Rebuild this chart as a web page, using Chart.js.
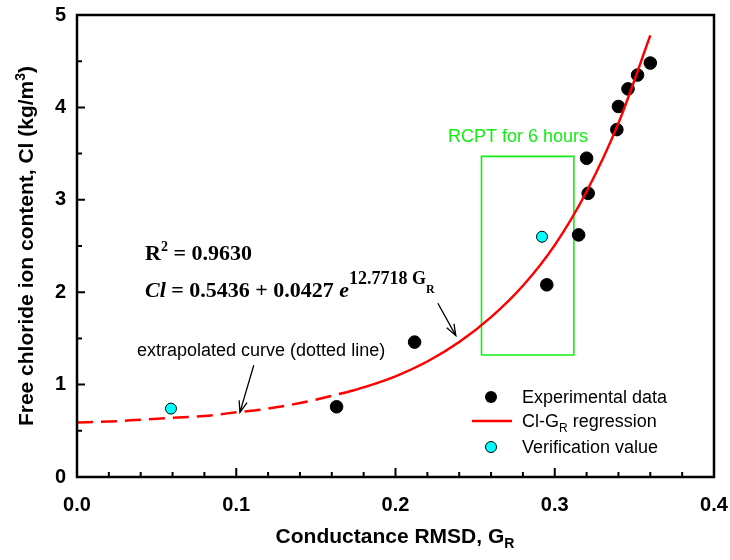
<!DOCTYPE html>
<html><head><meta charset="utf-8">
<script src="https://cdn.jsdelivr.net/npm/chart.js@4/dist/chart.umd.min.js"></script>
<style>html,body{margin:0;padding:0;background:#fff}#wrap{width:730px;height:560px}</style>
</head><body><div id="wrap"><canvas id="c" width="730" height="560"></canvas></div>
<script>
// ---- data ----
const xTicks = [0, 0.1, 0.2, 0.3, 0.4];
const yTicks = [0, 1, 2, 3, 4, 5];
const xMinor = [0.02, 0.04, 0.06, 0.08, 0.12, 0.14, 0.16, 0.18, 0.22, 0.24, 0.26, 0.28, 0.32, 0.34, 0.36, 0.38];
const yMinor = [0.5, 1.5, 2.5, 3.5, 4.5];

const expX = [0.163, 0.212, 0.295, 0.315, 0.321, 0.320, 0.339, 0.340, 0.346, 0.352, 0.360];
const expY = [0.76, 1.46, 2.08, 2.62, 3.07, 3.45, 3.76, 4.01, 4.20, 4.35, 4.48];

const verX = [0.059, 0.292];
const verY = [0.74, 2.60];

// regression curve (solid)
const regX = [0.17, 0.18, 0.20, 0.22, 0.24, 0.26, 0.28, 0.30, 0.32, 0.34, 0.36];
const regY = [0.92, 0.97, 1.09, 1.25, 1.46, 1.73, 2.07, 2.51, 3.09, 3.83, 4.78];

// extrapolated curve (dashed)
const extX = [0.00, 0.02, 0.04, 0.06, 0.08, 0.10, 0.12, 0.14, 0.17];
const extY = [0.59, 0.60, 0.62, 0.64, 0.66, 0.70, 0.74, 0.80, 0.92];

// "RCPT for 6 hours" box
const rectX = [0.254, 0.312, 0.312, 0.254, 0.254];
const rectY = [1.32, 1.32, 3.47, 3.47, 1.32];

const zip = (xs, ys) => xs.map((x, i) => ({x: x, y: ys[i]}));

const SANS = '"Liberation Sans", Arial, sans-serif';
const SERIF = '"Liberation Serif", "Times New Roman", serif';
const GREEN = '#11ee11';

function drawRich(ctx, x, y, segs, align) {
  let w = 0;
  segs.forEach(s => { ctx.font = s.font; s.w = ctx.measureText(s.t).width; w += s.w + (s.gap || 0); });
  let cx = align === 'center' ? x - w / 2 : x;
  ctx.textAlign = 'left';
  ctx.textBaseline = 'alphabetic';
  segs.forEach(s => {
    ctx.font = s.font;
    ctx.fillText(s.t, cx, y + (s.dy || 0));
    cx += s.w + (s.gap || 0);
  });
}

function arrow(ctx, x1, y1, x2, y2) {
  ctx.beginPath();
  ctx.moveTo(x1, y1); ctx.lineTo(x2, y2);
  const a = Math.atan2(y2 - y1, x2 - x1);
  const L = 12, sp = 0.35;
  ctx.moveTo(x2 - L * Math.cos(a - sp), y2 - L * Math.sin(a - sp));
  ctx.lineTo(x2, y2);
  ctx.lineTo(x2 - L * Math.cos(a + sp), y2 - L * Math.sin(a + sp));
  ctx.stroke();
}

const deco = {
  id: 'deco',
  afterDraw(chart) {
    const ctx = chart.ctx, ca = chart.chartArea;
    const xs = chart.scales.x, ys = chart.scales.y;
    ctx.save();
    // frame
    ctx.strokeStyle = '#000';
    ctx.lineWidth = 2.5;
    ctx.strokeRect(ca.left, ca.top, ca.right - ca.left, ca.bottom - ca.top);
    // inward ticks
    ctx.lineWidth = 2;
    ctx.beginPath();
    yTicks.forEach(v => { const p = ys.getPixelForValue(v); ctx.moveTo(ca.left, p); ctx.lineTo(ca.left + 8, p); });
    yMinor.forEach(v => { const p = ys.getPixelForValue(v); ctx.moveTo(ca.left, p); ctx.lineTo(ca.left + 5, p); });
    xTicks.forEach(v => { const p = xs.getPixelForValue(v); ctx.moveTo(p, ca.bottom); ctx.lineTo(p, ca.bottom - 9); });
    xMinor.forEach(v => { const p = xs.getPixelForValue(v); ctx.moveTo(p, ca.bottom); ctx.lineTo(p, ca.bottom - 5); });
    ctx.stroke();

    ctx.fillStyle = '#000';
    // x axis title
    drawRich(ctx, 395, 543, [
      {t: 'Conductance RMSD, G', font: 'bold 21px ' + SANS},
      {t: 'R', font: 'bold 14px ' + SANS, dy: 5}
    ], 'center');
    // y axis title (rotated)
    ctx.save();
    ctx.translate(33, 246);
    ctx.rotate(-Math.PI / 2);
    drawRich(ctx, 0, 0, [
      {t: 'Free chloride ion content, Cl (kg/m', font: 'bold 21px ' + SANS},
      {t: '3', font: 'bold 14px ' + SANS, dy: -8},
      {t: ')', font: 'bold 21px ' + SANS}
    ], 'center');
    ctx.restore();

    // formula
    drawRich(ctx, 145, 260, [
      {t: 'R', font: 'bold 22px ' + SERIF},
      {t: '2', font: 'bold 14px ' + SERIF, dy: -9},
      {t: ' = 0.9630', font: 'bold 22px ' + SERIF}
    ], 'left');
    drawRich(ctx, 145, 297, [
      {t: 'Cl', font: 'italic bold 22px ' + SERIF},
      {t: ' = 0.5436 + 0.0427 ', font: 'bold 22px ' + SERIF},
      {t: 'e', font: 'italic bold 22px ' + SERIF},
      {t: '12.7718 G', font: 'bold 18px ' + SERIF, dy: -13},
      {t: 'R', font: 'bold 12px ' + SERIF, dy: -4}
    ], 'left');

    // extrapolated note
    ctx.font = '18px ' + SANS;
    ctx.textAlign = 'left';
    ctx.textBaseline = 'alphabetic';
    ctx.fillText('extrapolated curve (dotted line)', 137, 356);

    // RCPT label
    ctx.fillStyle = GREEN;
    ctx.fillText('RCPT for 6 hours', 448, 142);

    // arrows
    ctx.strokeStyle = '#000';
    ctx.lineWidth = 1.3;
    arrow(ctx, xs.getPixelForValue(0.111), ys.getPixelForValue(1.21), xs.getPixelForValue(0.1023), ys.getPixelForValue(0.70));
    arrow(ctx, xs.getPixelForValue(0.2266), ys.getPixelForValue(1.88), xs.getPixelForValue(0.2379), ys.getPixelForValue(1.53));

    // legend
    ctx.fillStyle = '#000';
    ctx.beginPath(); ctx.arc(491, 397, 6, 0, Math.PI * 2); ctx.fill();
    ctx.strokeStyle = '#ff0000'; ctx.lineWidth = 2.5;
    ctx.beginPath(); ctx.moveTo(472, 421); ctx.lineTo(512, 421); ctx.stroke();
    ctx.fillStyle = '#00ffff'; ctx.strokeStyle = '#000'; ctx.lineWidth = 1;
    ctx.beginPath(); ctx.arc(491, 447, 5.5, 0, Math.PI * 2); ctx.fill(); ctx.stroke();
    ctx.fillStyle = '#000';
    ctx.font = '18px ' + SANS;
    ctx.fillText('Experimental data', 522, 403);
    drawRich(ctx, 522, 427, [
      {t: 'Cl-G', font: '18px ' + SANS},
      {t: 'R', font: '12px ' + SANS, dy: 5},
      {t: ' regression', font: '18px ' + SANS}
    ], 'left');
    ctx.font = '18px ' + SANS;
    ctx.fillText('Verification value', 522, 453);
    ctx.restore();
  }
};

new Chart(document.getElementById('c'), {
  type: 'scatter',
  data: {
    datasets: [
      {label: 'Experimental data', data: zip(expX, expY), backgroundColor: '#000', borderColor: '#000',
       pointRadius: 6.3, pointHoverRadius: 6.3, order: 2},
      {label: 'Verification value', data: zip(verX, verY), backgroundColor: '#00ffff', borderColor: '#000',
       borderWidth: 1, pointRadius: 5.5, order: 2},
      {label: 'Cl-GR regression', data: zip(regX, regY), showLine: true, borderColor: '#ff0000',
       borderWidth: 2.5, pointRadius: 0, cubicInterpolationMode: 'monotone', order: 0},
      {label: 'extrapolated', data: zip(extX, extY), showLine: true, borderColor: '#ff0000',
       borderWidth: 2.5, borderDash: [16, 8], pointRadius: 0, cubicInterpolationMode: 'monotone', order: 0},
      {label: 'RCPT box', data: zip(rectX, rectY), showLine: true, borderColor: GREEN,
       borderWidth: 1.6, pointRadius: 0, tension: 0, order: 3}
    ]
  },
  options: {
    responsive: false,
    animation: false,
    devicePixelRatio: 1,
    layout: {padding: {top: 15, right: 16, left: 0, bottom: 0}},
    plugins: {legend: {display: false}, tooltip: {enabled: false}},
    scales: {
      x: {
        type: 'linear', min: 0, max: 0.4,
        afterBuildTicks: s => { s.ticks = xTicks.map(v => ({value: v})); },
        afterFit: s => { s.height = 83; s.paddingLeft = 0; s.paddingRight = 0; },
        grid: {display: false, drawTicks: false},
        border: {display: false},
        ticks: {padding: 16, color: '#000', font: {family: SANS, size: 20, weight: 'bold'},
                callback: v => Number(v).toFixed(1)}
      },
      y: {
        type: 'linear', min: 0, max: 5,
        afterBuildTicks: s => { s.ticks = yTicks.map(v => ({value: v})); },
        afterFit: s => { s.width = 77; s.paddingTop = 0; s.paddingBottom = 0; },
        grid: {display: false, drawTicks: false},
        border: {display: false},
        ticks: {padding: 11, color: '#000', font: {family: SANS, size: 20, weight: 'bold'},
                callback: v => String(v)}
      }
    }
  },
  plugins: [deco]
});
</script>
</body></html>
